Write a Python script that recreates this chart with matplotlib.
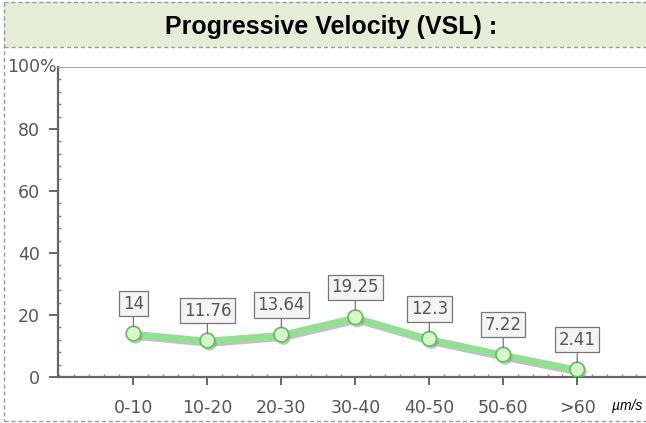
import numpy as np
import matplotlib
matplotlib.use("Agg")
import matplotlib.pyplot as plt
import matplotlib.patheffects as pe
from matplotlib.patches import Rectangle
from matplotlib.lines import Line2D
from matplotlib.ticker import MultipleLocator

categories = ["0-10", "10-20", "20-30", "30-40", "40-50", "50-60", ">60"]
values = [14, 11.76, 13.64, 19.25, 12.3, 7.22, 2.41]
labels = ["14", "11.76", "13.64", "19.25", "12.3", "7.22", "2.41"]
yticks = [0, 20, 40, 60, 80]

W, H = 646, 423
fig = plt.figure(figsize=(W / 100, H / 100), dpi=100)
plt.rcParams['font.family'] = ['Liberation Sans', 'DejaVu Sans']

# header band and dashed frame
fig.patches.append(Rectangle((4 / W, 1 - 47 / H), 1, 45 / H, transform=fig.transFigure,
                             facecolor="#e5edd6", edgecolor="none", zorder=0))
dash = dict(color="#999999", lw=1, ls=(0, (3, 2)), transform=fig.transFigure)
fig.lines.append(Line2D([4 / W, 1], [1 - 2 / H] * 2, **dash))
fig.lines.append(Line2D([4 / W, 1], [1 - 47 / H] * 2, **dash))
fig.lines.append(Line2D([4 / W, 1], [1 - 421 / H] * 2, **dash))
fig.lines.append(Line2D([4 / W] * 2, [1 - 2 / H, 1 - 421 / H], **dash))
fig.text(331 / W, 1 - 27 / H, "Progressive Velocity (VSL) :", ha="center", va="center",
         fontsize=18, fontweight="bold", color="black")

x0, y0, x1, y1 = 58, 67, 646, 377
ax = fig.add_axes([x0 / W, 1 - y1 / H, (x1 - x0) / W, (y1 - y0) / H])
ax.set_facecolor("none")
x = np.arange(len(categories))
ax.set_xlim(-1.02, 6.93)
ax.set_ylim(0, 100)

ax.plot(x, values, color="#86e886", lw=4, solid_capstyle="round", zorder=3,
        path_effects=[pe.SimpleLineShadow(offset=(1.5, -2.5), shadow_color="#999999", alpha=0.6),
                      pe.Normal()])
ax.scatter(x, values, s=110, facecolor="#d6f7cc", edgecolor="#5cbf5c", linewidth=1.2, zorder=4,
           path_effects=[pe.SimplePatchShadow(offset=(1.5, -2), shadow_rgbFace="#999999", alpha=0.6),
                         pe.Normal()])

for xi, v, lab in zip(x, values, labels):
    ax.annotate(lab, (xi, v), xytext=(0, 15), textcoords="offset points",
                ha="center", va="bottom", fontsize=12, color="#555555",
                family="DejaVu Sans",
                bbox=dict(boxstyle="square,pad=0.22", facecolor="#f4f4f4", edgecolor="#777777", lw=0.9),
                arrowprops=dict(arrowstyle="-", color="#777777", lw=0.9, shrinkA=0, shrinkB=5),
                zorder=5)

ax.spines["right"].set_visible(False)
ax.spines["top"].set_color("#aaaaaa")
ax.spines["left"].set_color("#666666")
ax.spines["left"].set_linewidth(1.6)
ax.spines["bottom"].set_color("#666666")
ax.spines["bottom"].set_linewidth(1.6)

ax.set_yticks(yticks)
ax.set_yticklabels([str(t) for t in yticks])
ax.yaxis.set_minor_locator(MultipleLocator(4))
ax.set_xticks(x)
ax.set_xticklabels(categories)
ax.xaxis.set_minor_locator(MultipleLocator(0.2))
ax.tick_params(axis="y", which="major", direction="out", length=6.5, width=1.4, color="#666666",
               labelsize=12.5, labelcolor="#555555", pad=6.5)
ax.tick_params(axis="y", which="minor", direction="in", length=2, width=1, color="#888888")
ax.tick_params(axis="x", which="major", direction="out", length=6, width=1.4, color="#666666",
               labelsize=12.5, labelcolor="#555555", pad=10)
ax.tick_params(axis="x", which="minor", direction="in", length=2, width=1, color="#888888")
for lbl in ax.get_xticklabels() + ax.get_yticklabels():
    lbl.set_family("DejaVu Sans")

fig.text(57 / W, 1 - 67 / H, "100%", ha="right", va="center", fontsize=12.5, color="#555555",
         family="DejaVu Sans")
fig.text(612 / W, 1 - 406 / H, "µm/s", ha="left", va="center", fontsize=10, style="italic",
         color="black")

fig.savefig("out.png", dpi=100)
